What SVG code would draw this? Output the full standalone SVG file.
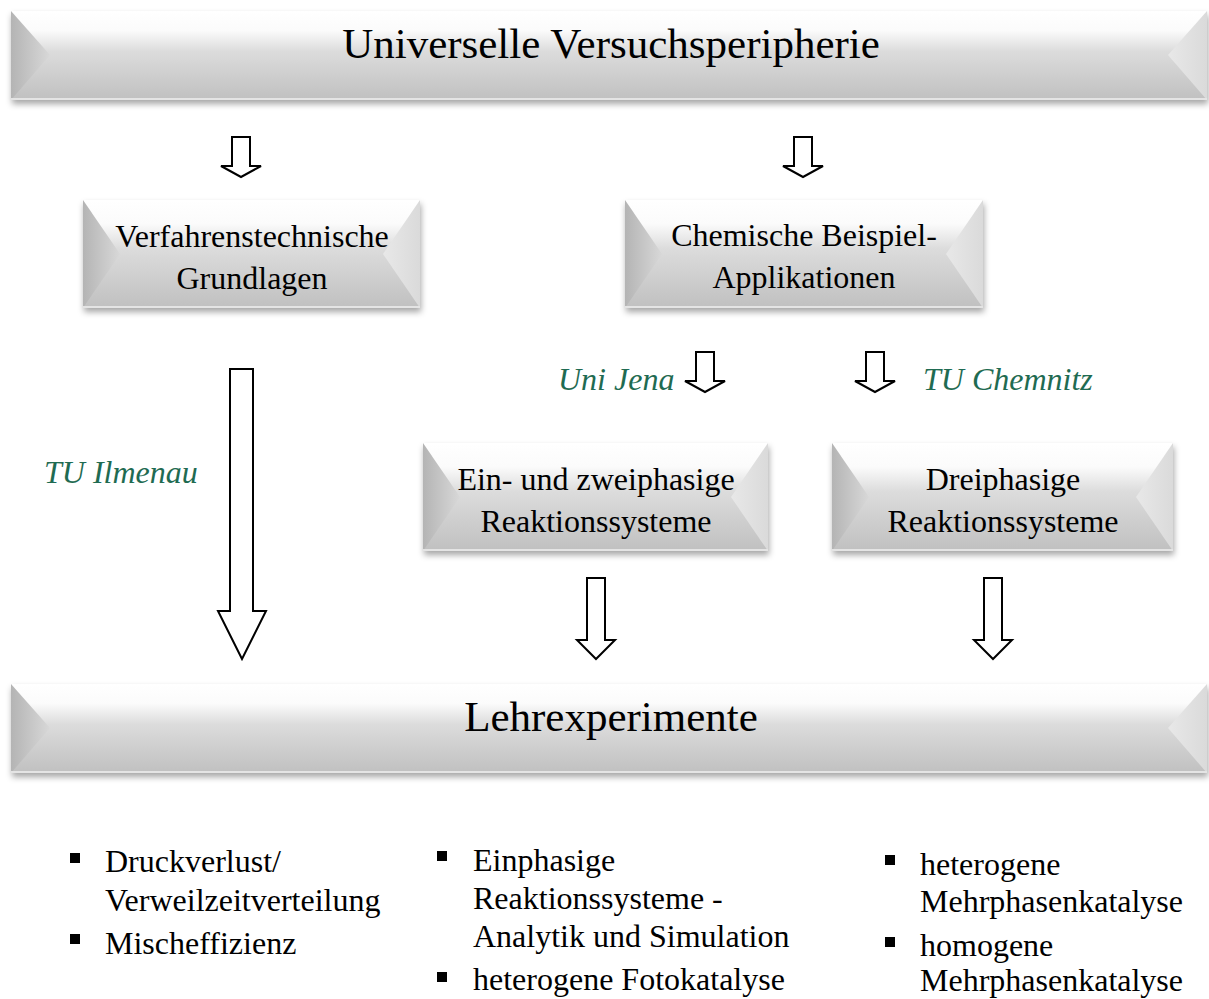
<svg xmlns="http://www.w3.org/2000/svg" width="1209" height="999" viewBox="0 0 1209 999">
<style>
.t{font-family:"Liberation Serif","Times New Roman",serif;fill:#000;text-anchor:middle}
.big{font-size:43px}
.mid{font-size:32px}
.lab{font-family:"Liberation Serif","Times New Roman",serif;font-size:32px;font-style:italic;fill:#1f6b52}
.li{font-family:"Liberation Serif","Times New Roman",serif;font-size:32px;fill:#000}
.arr{fill:#fff;stroke:#000;stroke-width:2;stroke-linejoin:miter}
.bul{fill:#000}
</style>
<defs>
<linearGradient id="face" x1="0" y1="0" x2="0" y2="1">
<stop offset="0" stop-color="#ffffff"/>
<stop offset="0.22" stop-color="#fbfbfb"/>
<stop offset="0.45" stop-color="#dcdcdc"/>
<stop offset="1" stop-color="#c0c0c0"/>
</linearGradient>
<linearGradient id="lside" x1="0" y1="0" x2="1" y2="0">
<stop offset="0" stop-color="#b4b4b4"/>
<stop offset="1" stop-color="#d8d8d8"/>
</linearGradient>
<linearGradient id="rside" x1="0" y1="0" x2="1" y2="0">
<stop offset="0" stop-color="#e8e8e8"/>
<stop offset="1" stop-color="#dadada"/>
</linearGradient>
<filter id="sh" x="-5%" y="-20%" width="110%" height="150%">
<feDropShadow dx="1" dy="4" stdDeviation="3" flood-color="#000" flood-opacity="0.35"/>
</filter>
</defs>

<g id="node-universelle">
<g filter="url(#sh)">
<rect x="11" y="11" width="1196" height="89" fill="url(#face)"/>
</g>
<polygon points="11,11 50,55 11,100" fill="url(#lside)"/>
<polygon points="1207,11 1168,55 1207,100" fill="url(#rside)"/>
<line x1="11" y1="99" x2="1207" y2="99" stroke="#e4e4e4" stroke-width="2"/>
<text class="t big" x="611" y="58">Universelle Versuchsperipherie</text>
</g>

<g id="node-verfahren">
<g filter="url(#sh)">
<rect x="83" y="200" width="337" height="108" fill="url(#face)"/>
</g>
<polygon points="83,200 120,254 83,308" fill="url(#lside)"/>
<polygon points="420,200 383,254 420,308" fill="url(#rside)"/>
<line x1="83" y1="307" x2="420" y2="307" stroke="#e4e4e4" stroke-width="2"/>
<text class="t mid" x="252" y="247">Verfahrenstechnische</text>
<text class="t mid" x="252" y="289">Grundlagen</text>
</g>

<g id="node-chemische">
<g filter="url(#sh)">
<rect x="625" y="200" width="358" height="108" fill="url(#face)"/>
</g>
<polygon points="625,200 662,254 625,308" fill="url(#lside)"/>
<polygon points="983,200 946,254 983,308" fill="url(#rside)"/>
<line x1="625" y1="307" x2="983" y2="307" stroke="#e4e4e4" stroke-width="2"/>
<text class="t mid" x="804" y="246">Chemische Beispiel-</text>
<text class="t mid" x="804" y="288">Applikationen</text>
</g>

<g id="node-einzwei">
<g filter="url(#sh)">
<rect x="423" y="443" width="345" height="108" fill="url(#face)"/>
</g>
<polygon points="423,443 460,497 423,551" fill="url(#lside)"/>
<polygon points="768,443 731,497 768,551" fill="url(#rside)"/>
<line x1="423" y1="550" x2="768" y2="550" stroke="#e4e4e4" stroke-width="2"/>
<text class="t mid" x="596" y="490">Ein- und zweiphasige</text>
<text class="t mid" x="596" y="532">Reaktionssysteme</text>
</g>

<g id="node-drei">
<g filter="url(#sh)">
<rect x="832" y="443" width="341" height="108" fill="url(#face)"/>
</g>
<polygon points="832,443 869,497 832,551" fill="url(#lside)"/>
<polygon points="1173,443 1136,497 1173,551" fill="url(#rside)"/>
<line x1="832" y1="550" x2="1173" y2="550" stroke="#e4e4e4" stroke-width="2"/>
<text class="t mid" x="1003" y="490">Dreiphasige</text>
<text class="t mid" x="1003" y="532">Reaktionssysteme</text>
</g>

<g id="node-lehr">
<g filter="url(#sh)">
<rect x="11" y="684" width="1196" height="89" fill="url(#face)"/>
</g>
<polygon points="11,684 50,728 11,773" fill="url(#lside)"/>
<polygon points="1207,684 1168,728 1207,773" fill="url(#rside)"/>
<line x1="11" y1="772" x2="1207" y2="772" stroke="#e4e4e4" stroke-width="2"/>
<text class="t big" x="611" y="731">Lehrexperimente</text>
</g>

<g id="connectors">
<polygon class="arr" points="232,137 250,137 250,166 261,166 241,177 221,166 232,166"/>
<polygon class="arr" points="794,137 812,137 812,166 823,166 803,177 783,166 794,166"/>
<polygon class="arr" points="230,369 253,369 253,611 266,611 242,659 218,611 230,611"/>
<polygon class="arr" points="696,352 714,352 714,381 725,381 705,392 685,381 696,381"/>
<polygon class="arr" points="866,352 884,352 884,381 895,381 875,392 855,381 866,381"/>
<polygon class="arr" points="587,578 605,578 605,640 615,640 596,659 577,640 587,640"/>
<polygon class="arr" points="984,578 1002,578 1002,640 1012,640 993,659 974,640 984,640"/>
</g>

<g id="labels">
<text class="lab" x="558" y="390">Uni Jena</text>
<text class="lab" x="923" y="390">TU Chemnitz</text>
<text class="lab" x="44" y="483">TU Ilmenau</text>
</g>

<g id="list-1">
<rect class="bul" x="70" y="853" width="10" height="10"/>
<text class="li" x="105" y="872">Druckverlust/</text>
<text class="li" x="105" y="911">Verweilzeitverteilung</text>
<rect class="bul" x="70" y="934" width="10" height="10"/>
<text class="li" x="105" y="954">Mischeffizienz</text>
</g>

<g id="list-2">
<rect class="bul" x="437" y="851" width="10" height="10"/>
<text class="li" x="473" y="871">Einphasige</text>
<text class="li" x="473" y="909">Reaktionssysteme -</text>
<text class="li" x="473" y="947">Analytik und Simulation</text>
<rect class="bul" x="437" y="972" width="10" height="10"/>
<text class="li" x="473" y="990">heterogene Fotokatalyse</text>
</g>

<g id="list-3">
<rect class="bul" x="885" y="855" width="10" height="10"/>
<text class="li" x="920" y="875">heterogene</text>
<text class="li" x="920" y="912">Mehrphasenkatalyse</text>
<rect class="bul" x="885" y="937" width="10" height="10"/>
<text class="li" x="920" y="956">homogene</text>
<text class="li" x="920" y="991">Mehrphasenkatalyse</text>
</g>
</svg>
